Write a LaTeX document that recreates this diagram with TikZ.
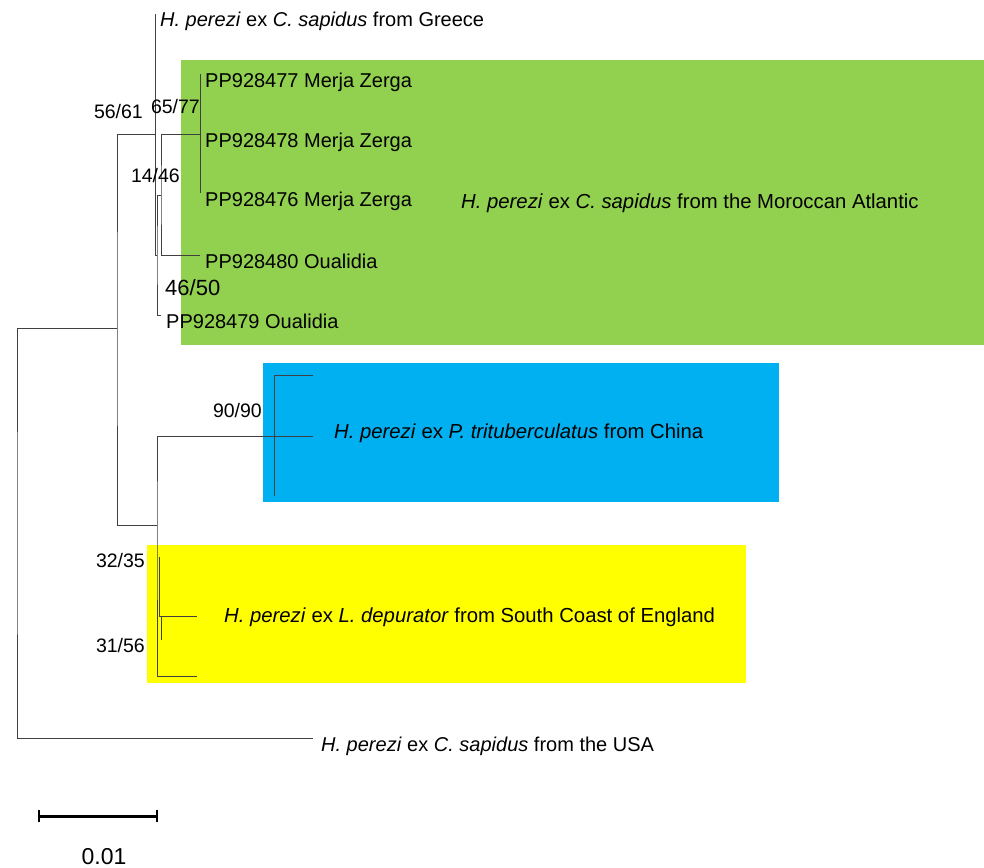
\documentclass[tikz,border=0pt]{standalone}
\usepackage{fontspec}
\setmainfont{Liberation Sans}
\usetikzlibrary{positioning}
\definecolor{grclade}{RGB}{146,208,80}
\definecolor{blclade}{RGB}{0,176,240}
\definecolor{ylclade}{RGB}{255,255,0}
\newcommand{\hper}{\textit{H. perezi} ex}

\begin{document}
\begin{tikzpicture}[x=1pt,y=-1pt,
	branch/.style={draw=black!75,line width=0.8pt},
	tip/.style={anchor=west,inner xsep=5pt,inner ysep=0pt,text height=26pt,text depth=0pt,font=\fontsize{20}{24}\selectfont},
	boot/.style={anchor=base east,inner sep=0pt,font=\fontsize{19.5}{24}\selectfont},
	clade/.style={anchor=base west,inner sep=0pt,font=\fontsize{20.3}{24}\selectfont}]
	\useasboundingbox (0,0) rectangle (984,867);
	
	% clade boxes
	\fill[grclade] (181,60) rectangle (984,345);
	\fill[blclade] (263,363) rectangle (779,502);
	\fill[ylclade] (147,545) rectangle (746,683);
	
	% internal nodes
	\coordinate (root) at (17,533);
	\coordinate (n1) at (117,328);
	\coordinate (nA) at (155,134);
	\coordinate (nB) at (157,255);
	\coordinate (nC) at (161,195);
	\coordinate (nD) at (200,134);
	\coordinate (nF) at (157,525);
	\coordinate (nChina) at (274,436);
	\coordinate (nY1) at (159,557);
	\coordinate (nY2) at (161,640);
	
	% tips
	\node[tip] (greece) at (155,14) {\hper{} \textit{C. sapidus} from Greece};
	\node[tip] (pp477) at (200,74) {PP928477 Merja Zerga};
	\node[tip] (pp478) at (200,134) {PP928478 Merja Zerga};
	\node[tip] (pp476) at (200,193) {PP928476 Merja Zerga};
	\node[tip] (pp480) at (200,255) {PP928480 Oualidia};
	\node[tip] (pp479) at (161,315) {PP928479 Oualidia};
	\node[tip,inner xsep=8pt] (usa) at (313,738) {\hper{} \textit{C. sapidus} from the USA};
	\coordinate (cTop) at (313,375);
	\coordinate (cMid) at (313,436);
	\coordinate (cBot) at (274,496);
	\coordinate (yMid) at (197,616);
	\coordinate (yBot) at (197,676);
	
	% branches
	\draw[branch] (n1) -| (root) |- (usa);
	\draw[branch] (nA) -| (n1) |- (nF);
	\draw[branch] (greece.west) |- (nB);
	\draw[branch] (nC) -| (nB) |- (pp479);
	\draw[branch] (nD) -| (nC) |- (pp480);
	\draw[branch] (pp477.west) -- (pp476.west);
	\draw[branch] (cMid) -| (nF) |- (yBot);
	\draw[branch] (cTop) -| (cBot);
	\draw[branch] (nY1) |- (yMid);
	\draw[branch] (nY2) |- (yMid);
	
	% bootstrap values
	\node[boot] (b1) at (143,118) {56/61};
	\node[boot] (b2) at (200,113) {65/77};
	\node[boot] (b3) at (180,182) {14/46};
	\node[boot,anchor=base west,font=\fontsize{22}{26}\selectfont] (b4) at (165,295) {46/50};
	\node[boot] (b5) at (262,417) {90/90};
	\node[boot] (b6) at (145,567) {32/35};
	\node[boot] (b7) at (145,652) {31/56};
	
	% clade names
	\node[clade] (lgreen) at (461,208) {\hper{} \textit{C. sapidus} from the Moroccan Atlantic};
	\node[clade] (lblue) at (334,438) {\hper{} \textit{P. trituberculatus} from China};
	\node[clade] (lyellow) at (224,622) {\hper{} \textit{L. depurator} from South Coast of England};
	
	% scale bar
	\coordinate (sbL) at (39,816);
	\coordinate (sbR) at (157,816);
	\draw[line width=3pt] (sbL) -- (sbR);
	\draw[line width=2.5pt] ([yshift=-6pt]sbL) -- ([yshift=6pt]sbL);
	\draw[line width=2.5pt] ([yshift=-6pt]sbR) -- ([yshift=6pt]sbR);
	\node[anchor=base,inner sep=0pt,font=\fontsize{23}{27}\selectfont] (sblab) at (104,864) {0.01};
\end{tikzpicture}
\end{document}
